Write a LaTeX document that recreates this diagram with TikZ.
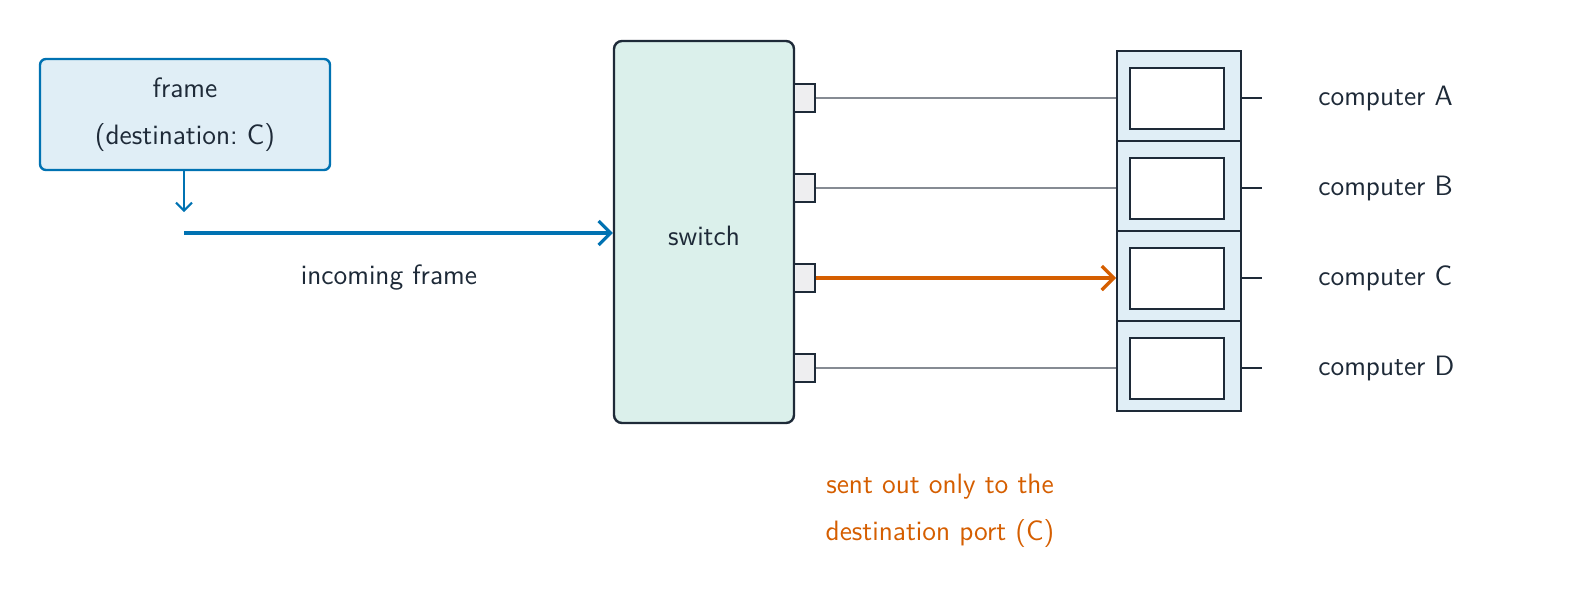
\documentclass[tikz,border=0pt]{standalone}
\usepackage{fontspec}
\usetikzlibrary{arrows.meta}
\definecolor{ink}{HTML}{1E2A38}
\definecolor{bl}{HTML}{0072B2}
\definecolor{org}{HTML}{D55E00}
\definecolor{lb}{HTML}{E0EEF6}
\definecolor{gr}{HTML}{DBF0EB}
\definecolor{pg}{HTML}{EEEEF0}
\definecolor{ln}{HTML}{868B93}
\tikzset{
 txt/.style={font=\sffamily\fontsize{14}{17}\selectfont, text=ink, inner sep=0},
 pc/.style={draw=ink, line width=1.2pt, fill=lb},
 scr/.style={draw=ink, line width=1pt, fill=white},
 portbox/.style={draw=ink, line width=1pt, fill=pg},
}
\begin{document}
\begin{tikzpicture}[x=0.5pt,y=-0.5pt]
\useasboundingbox (0,0) rectangle (1578,611);
\node[draw=bl, line width=1.2pt, fill=lb, rounded corners=3pt, minimum width=145pt, minimum height=55.5pt, inner sep=0] (frame) at (185,114.5) {};
\node[txt] (f1) at (185,88) {frame};
\node[txt] (f2) at (185,138) {(destination:\ C)};
\coordinate (fa) at (184,212);
\draw[bl, line width=1pt, -{Straight Barb[length=4pt]}] (frame.south -| fa) -- (fa);
\coordinate (in0) at (184,233);
\node[draw=ink, line width=1.2pt, fill=gr, rounded corners=4pt, minimum width=90pt, minimum height=191pt, inner sep=0] (sw) at (704,232) {};
\node[txt] (swl) at (704,236) {switch};
\draw[bl, line width=1.6pt, -{Straight Barb[length=6pt]}] (in0) -- (in0 -| sw.west);
\node[txt] (inc) at (389,278) {incoming frame};
\foreach \i/\y/\t/\top in {a/98/A/50,b/188/B/140,c/278/C/230,d/368/D/320}{
  \node[portbox, minimum width=10.5pt, minimum height=14pt, inner sep=0] (p\i) at (804.5,\y) {};
  \node[pc, minimum width=62pt, minimum height=45pt, inner sep=0, anchor=north west] (c\i) at (1116,\top) {};
  \node[scr, minimum width=47pt, minimum height=30.5pt, inner sep=0] (s\i) at (1177,\y) {};
  \coordinate (t\i) at (1262,\y);
  \draw[ink, line width=1.2pt] (c\i.east |- t\i) -- (t\i);
  \node[txt, anchor=west] (l\i) at (1318,\y) {computer \t};
}
\draw[ln, line width=1.2pt] (pa.east) -- (pa.east -| ca.west);
\draw[ln, line width=1.2pt] (pb.east) -- (pb.east -| cb.west);
\draw[ln, line width=1.2pt] (pd.east) -- (pd.east -| cd.west);
\draw[org, line width=1.6pt, -{Straight Barb[length=6pt]}] (pc.east) -- (pc.east -| cc.west);
\node[txt, text=org, align=center, font=\sffamily\fontsize{14}{23.5}\selectfont] (note) at (940,511) {sent out only to the\\destination port (C)};
\end{tikzpicture}
\end{document}
